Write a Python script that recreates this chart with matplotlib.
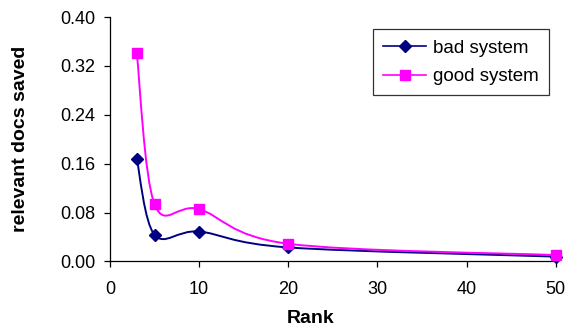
import numpy as np
import matplotlib
matplotlib.use('Agg')
import matplotlib.pyplot as plt
from matplotlib.path import Path
from matplotlib.patches import PathPatch
from matplotlib.lines import Line2D

plt.rcParams['font.family'] = ['Liberation Sans', 'DejaVu Sans']

ranks = [3, 5, 10, 20, 50]
bad_system = [0.168, 0.0436, 0.049, 0.023, 0.008]
good_system = [0.341, 0.0935, 0.0857, 0.029, 0.0105]
yticks = [0.00, 0.08, 0.16, 0.24, 0.32, 0.40]
xticks = [0, 10, 20, 30, 40, 50]


def smooth_path(xs, ys, t=1.0 / 6):
    # excel style smoothed line: bezier segments through the points
    pts = np.column_stack([xs, ys])
    n = len(pts)
    verts = [pts[0]]
    codes = [Path.MOVETO]
    for i in range(n - 1):
        p0 = pts[i - 1] if i > 0 else pts[i]
        p1 = pts[i]
        p2 = pts[i + 1]
        p3 = pts[i + 2] if i + 2 < n else pts[i + 1]
        verts += [p1 + (p2 - p0) * t, p2 - (p3 - p1) * t, p2]
        codes += [Path.CURVE4] * 3
    return Path(verts, codes)


fig = plt.figure(figsize=(5.73, 3.31), dpi=100)
ax = fig.add_axes([0.192, 0.21, 0.778, 0.7386])

series = [
    ("bad system", bad_system, "#000080", "D", 6.5),
    ("good system", good_system, "#FF00FF", "s", 7),
]
handles = []
for name, vals, col, mk, ms in series:
    ax.add_patch(PathPatch(smooth_path(ranks, vals), fill=False,
                           edgecolor=col, lw=1.4, zorder=2))
    ax.plot(ranks, vals, linestyle='none', marker=mk, ms=ms,
            color=col, zorder=3, clip_on=False)
    handles.append(Line2D([], [], color=col, lw=1.2, marker=mk, ms=ms))

ax.set_xlim(0, 50)
ax.set_ylim(0, 0.40)
ax.set_xticks(xticks)
ax.set_yticks(yticks)
ax.set_yticklabels(["%.2f" % v for v in yticks])
ax.spines['top'].set_visible(False)
ax.spines['right'].set_visible(False)
for s in ['left', 'bottom']:
    ax.spines[s].set_color('#000000')
    ax.spines[s].set_linewidth(0.9)
ax.tick_params(direction='out', length=4, width=0.9, labelsize=13)
ax.tick_params(axis='x', pad=10)
ax.tick_params(axis='y', pad=6.5)

ax.set_xlabel("Rank", fontsize=14, fontweight='bold')
ax.xaxis.set_label_coords(0.45, -0.2)
ax.set_ylabel("relevant docs saved", fontsize=14, fontweight='bold')
ax.yaxis.set_label_coords(-0.182, 0.5)

leg = fig.legend(handles, ["bad system", "good system"],
                 loc='upper right', bbox_to_anchor=(0.958, 0.9115),
                 borderaxespad=0, fontsize=13.5, frameon=True,
                 fancybox=False, handlelength=2.3, handletextpad=0.35,
                 borderpad=0.55, labelspacing=0.6)
leg.get_frame().set_edgecolor('#000000')
leg.get_frame().set_linewidth(0.9)

fig.savefig("out.png", dpi=100)
